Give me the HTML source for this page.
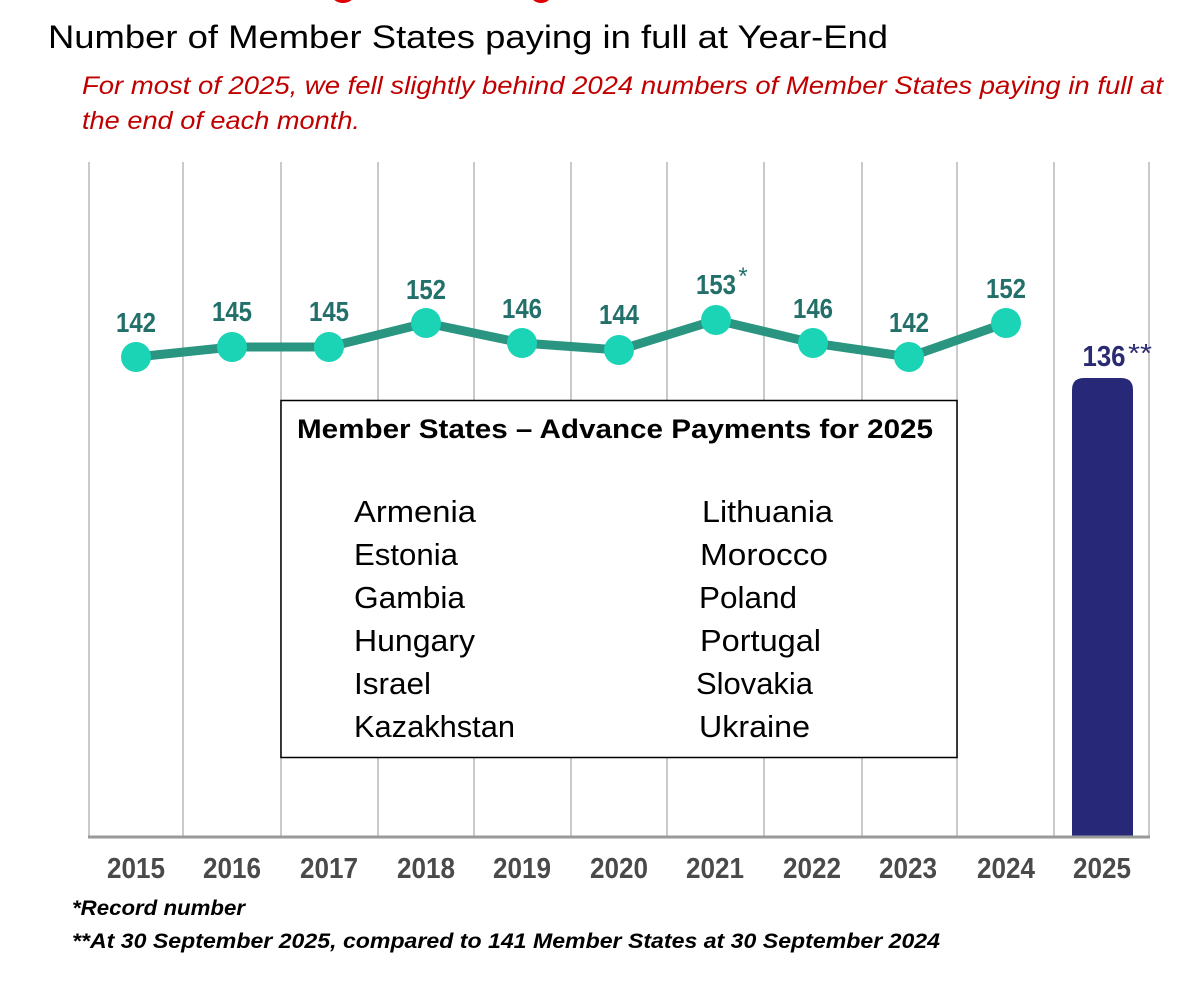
<!DOCTYPE html>
<html>
<head>
<meta charset="utf-8">
<style>
  html, body { margin: 0; padding: 0; background: #ffffff; }
  svg { display: block; }
</style>
</head>
<body>
<svg width="1190" height="1002" viewBox="0 0 1190 1002" xmlns="http://www.w3.org/2000/svg">
  <rect x="0" y="0" width="1190" height="1002" fill="#ffffff"/>

  <!-- cut-off red header fragments -->
  <ellipse cx="343" cy="-5" rx="11" ry="8" fill="#e00000"/>
  <ellipse cx="541" cy="-5" rx="10" ry="8" fill="#e00000"/>

  <!-- Title -->
  <text x="48" y="48" font-family="Liberation Sans, sans-serif" font-size="32" fill="#000" textLength="840" lengthAdjust="spacingAndGlyphs">Number of Member States paying in full at Year-End</text>

  <!-- Subtitle -->
  <text x="82" y="94" font-family="Liberation Sans, sans-serif" font-style="italic" font-size="25" fill="#c00000" textLength="1081" lengthAdjust="spacingAndGlyphs">For most of 2025, we fell slightly behind 2024 numbers of Member States paying in full at</text>
  <text x="82" y="129" font-family="Liberation Sans, sans-serif" font-style="italic" font-size="25" fill="#c00000" textLength="278" lengthAdjust="spacingAndGlyphs">the end of each month.</text>

  <!-- Gridlines -->
  <g stroke="#cacaca" stroke-width="2">
    <line x1="89" y1="162" x2="89" y2="837"/>
    <line x1="183" y1="162" x2="183" y2="837"/>
    <line x1="281" y1="162" x2="281" y2="837"/>
    <line x1="378" y1="162" x2="378" y2="837"/>
    <line x1="474" y1="162" x2="474" y2="837"/>
    <line x1="571" y1="162" x2="571" y2="837"/>
    <line x1="667" y1="162" x2="667" y2="837"/>
    <line x1="764" y1="162" x2="764" y2="837"/>
    <line x1="862" y1="162" x2="862" y2="837"/>
    <line x1="957" y1="162" x2="957" y2="837"/>
    <line x1="1054" y1="162" x2="1054" y2="837"/>
    <line x1="1149" y1="162" x2="1149" y2="837"/>
  </g>

  <!-- 2025 bar -->
  <path d="M1072,837 L1072,390 Q1072,378 1084,378 L1121,378 Q1133,378 1133,390 L1133,837 Z" fill="#282878"/>

  <!-- Axis line -->
  <line x1="88" y1="837" x2="1150" y2="837" stroke="#999999" stroke-width="3"/>

  <!-- Line series -->
  <polyline points="136,357 232,347 329,347 426,323 522,343 619,350 716,320 813,343 909,357 1006,323"
            fill="none" stroke="#2a9580" stroke-width="9" stroke-linejoin="round" stroke-linecap="round"/>
  <g fill="#1bd4b6">
    <circle cx="136" cy="357" r="15"/>
    <circle cx="232" cy="347" r="15"/>
    <circle cx="329" cy="347" r="15"/>
    <circle cx="426" cy="323" r="15"/>
    <circle cx="522" cy="343" r="15"/>
    <circle cx="619" cy="350" r="15"/>
    <circle cx="716" cy="320" r="15"/>
    <circle cx="813" cy="343" r="15"/>
    <circle cx="909" cy="357" r="15"/>
    <circle cx="1006" cy="323" r="15"/>
  </g>

  <!-- Data labels -->
  <g font-family="Liberation Sans, sans-serif" font-weight="bold" font-size="28" fill="#23706a" text-anchor="middle">
    <text x="136" y="332" textLength="40" lengthAdjust="spacingAndGlyphs">142</text>
    <text x="232" y="321" textLength="40" lengthAdjust="spacingAndGlyphs">145</text>
    <text x="329" y="321" textLength="40" lengthAdjust="spacingAndGlyphs">145</text>
    <text x="426" y="299" textLength="40" lengthAdjust="spacingAndGlyphs">152</text>
    <text x="522" y="318" textLength="40" lengthAdjust="spacingAndGlyphs">146</text>
    <text x="619" y="324" textLength="40" lengthAdjust="spacingAndGlyphs">144</text>
    <text x="716" y="294" textLength="40" lengthAdjust="spacingAndGlyphs">153</text>
    <text x="813" y="318" textLength="40" lengthAdjust="spacingAndGlyphs">146</text>
    <text x="909" y="332" textLength="40" lengthAdjust="spacingAndGlyphs">142</text>
    <text x="1006" y="298" textLength="40" lengthAdjust="spacingAndGlyphs">152</text>
  </g>
  <text x="743" y="284" font-family="Liberation Sans, sans-serif" font-size="24" fill="#23706a" text-anchor="middle">*</text>

  <!-- 2025 label -->
  <text x="1104" y="366" font-family="Liberation Sans, sans-serif" font-weight="bold" font-size="29" fill="#2a2a72" text-anchor="middle" textLength="43" lengthAdjust="spacingAndGlyphs">136</text>
  <text x="1140" y="362" font-family="Liberation Sans, sans-serif" font-size="26" fill="#2a2a72" text-anchor="middle" textLength="24" lengthAdjust="spacingAndGlyphs">**</text>

  <!-- Year labels -->
  <g font-family="Liberation Sans, sans-serif" font-weight="bold" font-size="29" fill="#4a4a4a" text-anchor="middle">
    <text x="136" y="878" textLength="58" lengthAdjust="spacingAndGlyphs">2015</text>
    <text x="232" y="878" textLength="58" lengthAdjust="spacingAndGlyphs">2016</text>
    <text x="329" y="878" textLength="58" lengthAdjust="spacingAndGlyphs">2017</text>
    <text x="426" y="878" textLength="58" lengthAdjust="spacingAndGlyphs">2018</text>
    <text x="522" y="878" textLength="58" lengthAdjust="spacingAndGlyphs">2019</text>
    <text x="619" y="878" textLength="58" lengthAdjust="spacingAndGlyphs">2020</text>
    <text x="715" y="878" textLength="58" lengthAdjust="spacingAndGlyphs">2021</text>
    <text x="812" y="878" textLength="58" lengthAdjust="spacingAndGlyphs">2022</text>
    <text x="908" y="878" textLength="58" lengthAdjust="spacingAndGlyphs">2023</text>
    <text x="1006" y="878" textLength="58" lengthAdjust="spacingAndGlyphs">2024</text>
    <text x="1102" y="878" textLength="58" lengthAdjust="spacingAndGlyphs">2025</text>
  </g>

  <!-- Box -->
  <rect x="281" y="400.5" width="676" height="357" fill="#ffffff" stroke="#000000" stroke-width="1.5"/>
  <text x="297" y="438" font-family="Liberation Sans, sans-serif" font-weight="bold" font-size="27" fill="#000" textLength="636" lengthAdjust="spacingAndGlyphs">Member States – Advance Payments for 2025</text>

  <g font-family="Liberation Sans, sans-serif" font-size="31" fill="#000">
    <text x="354" y="522" textLength="122" lengthAdjust="spacingAndGlyphs">Armenia</text>
    <text x="354" y="565" textLength="104" lengthAdjust="spacingAndGlyphs">Estonia</text>
    <text x="354" y="608" textLength="111" lengthAdjust="spacingAndGlyphs">Gambia</text>
    <text x="354" y="651" textLength="121" lengthAdjust="spacingAndGlyphs">Hungary</text>
    <text x="354" y="694" textLength="77" lengthAdjust="spacingAndGlyphs">Israel</text>
    <text x="354" y="737" textLength="161" lengthAdjust="spacingAndGlyphs">Kazakhstan</text>

    <text x="702" y="522" textLength="131" lengthAdjust="spacingAndGlyphs">Lithuania</text>
    <text x="700" y="565" textLength="128" lengthAdjust="spacingAndGlyphs">Morocco</text>
    <text x="699" y="608" textLength="98" lengthAdjust="spacingAndGlyphs">Poland</text>
    <text x="700" y="651" textLength="121" lengthAdjust="spacingAndGlyphs">Portugal</text>
    <text x="696" y="694" textLength="117" lengthAdjust="spacingAndGlyphs">Slovakia</text>
    <text x="699" y="737" textLength="111" lengthAdjust="spacingAndGlyphs">Ukraine</text>
  </g>

  <!-- Footnotes -->
  <text x="72" y="915" font-family="Liberation Sans, sans-serif" font-weight="bold" font-style="italic" font-size="21" fill="#000" textLength="173" lengthAdjust="spacingAndGlyphs">*Record number</text>
  <text x="72" y="948" font-family="Liberation Sans, sans-serif" font-weight="bold" font-style="italic" font-size="21" fill="#000" textLength="868" lengthAdjust="spacingAndGlyphs">**At 30 September 2025, compared to 141 Member States at 30 September 2024</text>
</svg>
</body>
</html>
